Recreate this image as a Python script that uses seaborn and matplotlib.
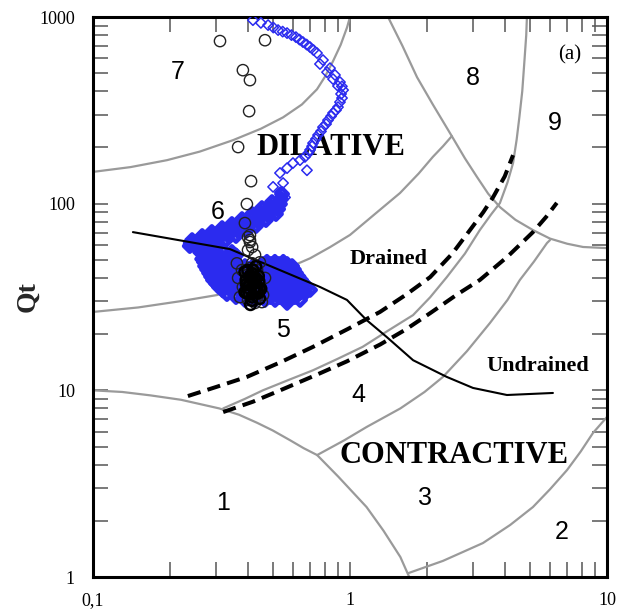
import matplotlib
matplotlib.use("Agg")
import matplotlib.pyplot as plt
import seaborn as sns

# --- zone boundaries of the Qt - Fr chart (Fr in %, Qt) ---
zone1_fr = [0.1, 0.13, 0.167, 0.22, 0.31, 0.37, 0.435, 0.5, 0.585, 0.66, 0.745, 0.9, 1.16,
            1.35, 1.57, 1.70]
zone1_qt = [10.0, 9.8, 9.4, 8.9, 8.0, 7.4, 6.7, 6.1, 5.4, 4.9, 4.5, 3.45, 2.37, 1.77, 1.28, 1.0]

zone2_fr = [1.69, 2.3, 3.29, 4.2, 5.15, 6.0, 6.99, 7.9, 8.82, 10.0]
zone2_qt = [1.05, 1.22, 1.52, 1.9, 2.37, 2.95, 3.74, 4.7, 5.91, 7.2]

zone34_fr = [0.745, 0.95, 1.16, 1.57, 1.95, 2.3, 2.85, 3.50, 4.1, 4.58, 5.2, 5.84, 6.0]
zone34_qt = [4.5, 5.4, 6.36, 8.0, 9.8, 11.8, 16.2, 22.9, 30.5, 39.0, 49.0, 61.5, 63.8]

zone45_fr = [0.321, 0.39, 0.458, 0.58, 0.717, 0.9, 1.12, 1.4, 1.76, 2.05, 2.38, 2.8, 3.2, 3.55,
             3.83, 4.1, 4.31, 4.45, 4.56, 4.68, 4.78, 4.85, 4.88]
zone45_qt = [8.0, 9.0, 10.0, 11.4, 12.8, 14.8, 17.1, 20.8, 25.3, 31.5, 40.4, 54, 72.2, 88,
             100.7, 130, 165, 220, 290, 400, 600, 800, 1000]

zone56_fr = [0.1, 0.15, 0.218, 0.304, 0.42, 0.585, 0.7, 0.836, 1.0, 1.25, 1.565, 1.85, 2.10,
             2.3, 2.49]
zone56_qt = [26.3, 27.8, 30.0, 32.4, 37.5, 45.8, 51.0, 58.5, 68.0, 88, 114, 145, 178, 203, 230]

zone67_fr = [0.1, 0.14, 0.194, 0.26, 0.351, 0.45, 0.549, 0.65, 0.744, 0.80, 0.859, 0.92,
             0.974, 1.0]
zone67_qt = [148, 157, 171, 190, 219, 252, 290, 340, 410, 480, 580, 710, 880, 1000]

zone8_fr = [1.406, 1.6, 1.823, 2.1, 2.49, 2.8, 3.12, 3.45, 3.83, 4.4, 5.15, 6.0, 7.0, 8.07, 10.0]
zone8_qt = [1000, 700, 476, 340, 230, 175, 139, 113, 95.9, 82, 72.2, 65, 61, 58.6, 57.8]

# drained / undrained limits
drained_upper_fr = [0.234, 0.3, 0.397, 0.54, 0.718, 0.98, 1.308, 1.65, 2.05, 2.5, 2.93, 3.3,
                    3.6, 4.0, 4.31]
drained_upper_qt = [9.32, 10.4, 11.8, 14.2, 17.1, 21.3, 26.3, 32.5, 40.4, 54, 72.2, 90, 108,
                    140, 182]
drained_lower_fr = [0.321, 0.42, 0.535, 0.75, 0.973, 1.31, 1.65, 2.05, 2.6, 3.2, 4.1, 5.15,
                    5.8, 6.38]
drained_lower_qt = [7.65, 8.7, 10.0, 12.2, 14.3, 17.6, 21.2, 25.9, 32.5, 39.0, 52, 70.4, 85,
                    101]

undrained_fr = [0.143, 0.341, 0.764, 0.973, 1.16, 1.39, 1.76, 2.38, 3.01, 4.08, 6.16]
undrained_qt = [70.4, 57.1, 35.8, 30.5, 23.8, 19.3, 14.5, 11.8, 10.3, 9.44, 9.68]

# --- test data ---
# blue diamonds: upper track
track_fr = [0.419, 0.450, 0.480, 0.503, 0.525, 0.547, 0.569, 0.592, 0.616, 0.636, 0.656,
            0.678, 0.699, 0.721, 0.744, 0.764, 0.785, 0.814, 0.836, 0.859, 0.874, 0.898,
            0.914, 0.930, 0.940, 0.923, 0.931, 0.914, 0.898, 0.882, 0.859, 0.844, 0.821,
            0.807, 0.785, 0.771, 0.751, 0.737, 0.718, 0.712, 0.699, 0.687, 0.668, 0.639,
            0.600, 0.569, 0.534, 0.680, 0.549, 0.502, 0.534, 0.559, 0.520, 0.497, 0.520]
track_qt = [962, 930, 905, 878, 851, 835, 820, 800, 780, 757, 734,
            712, 690, 665, 641, 560, 588, 506, 532, 465, 489, 427,
            448, 425, 406, 387, 368, 350, 329, 317, 306, 294, 280,
            267, 257, 244, 233, 222, 211, 203, 194, 186, 178, 171,
            165, 155, 146, 151, 129, 123, 115, 108, 102, 92.5, 89.1]

# blue diamonds: dense cluster, one row of Fr values per Qt level
band_fr = [0.544, 0.497, 0.454, 0.416, 0.380, 0.347, 0.318, 0.290, 0.266, 0.243,
           0.539, 0.492, 0.450, 0.412, 0.377, 0.344, 0.315, 0.288, 0.263, 0.240,
           0.534, 0.488, 0.446, 0.408, 0.373, 0.341, 0.312, 0.285, 0.261, 0.238,
           0.525, 0.480, 0.438, 0.401, 0.367, 0.335, 0.306, 0.280, 0.256,
           0.515, 0.471, 0.431, 0.394, 0.360, 0.329, 0.301, 0.275]
band_qt = [112.6, 102.0, 94.7, 88.0, 82.7, 77.8, 74.0, 70.5, 67.1, 63.8,
           106, 96.5, 89.6, 83.8, 78.7, 74.5, 70.9, 67.5, 64.2, 61.5,
           99.5, 91.3, 84.8, 79.7, 74.9, 71.3, 67.9, 64.6, 61.5, 59.3,
           93.5, 86.5, 80.2, 75.5, 71.0, 67.5, 64.3, 61.5, 58.5,
           88.0, 81.7, 75.9, 71.3, 67.1, 63.8, 60.8, 57.8]

cluster_levels = [55.1, 52.8, 50.5, 48.8, 47.5, 46.3, 44.4, 42.5, 40.7, 39.0, 37.4, 35.8,
                  34.3, 32.8, 31.6, 30.5]
cluster_rows = [
    [0.261, 0.280, 0.301, 0.323, 0.347],
    [0.270, 0.290, 0.312, 0.335, 0.360],
    [0.266, 0.285, 0.306, 0.329, 0.354],
    [0.270, 0.290, 0.310, 0.333, 0.357, 0.475, 0.510, 0.550],
    [0.459, 0.493, 0.529, 0.569],
    [0.273, 0.293, 0.315, 0.338, 0.363, 0.390, 0.419, 0.450, 0.484, 0.520, 0.559, 0.595],
    [0.278, 0.298, 0.320, 0.344, 0.370, 0.397, 0.427, 0.459, 0.493, 0.529, 0.569, 0.605],
    [0.283, 0.304, 0.326, 0.350, 0.377, 0.405, 0.435, 0.467, 0.502, 0.539, 0.579, 0.616],
    [0.288, 0.309, 0.332, 0.357, 0.383, 0.412, 0.442, 0.475, 0.511, 0.549, 0.589, 0.630],
    [0.293, 0.315, 0.338, 0.363, 0.390, 0.419, 0.450, 0.484, 0.520, 0.559, 0.600, 0.645],
    [0.301, 0.323, 0.347, 0.373, 0.401, 0.431, 0.463, 0.497, 0.534, 0.574, 0.616, 0.660],
    [0.309, 0.332, 0.357, 0.383, 0.412, 0.442, 0.475, 0.511, 0.549, 0.589, 0.633, 0.680],
    [0.320, 0.344, 0.370, 0.397, 0.427, 0.459, 0.493, 0.529, 0.569, 0.610, 0.655],
    [0.332, 0.357, 0.383, 0.412, 0.442, 0.475, 0.511, 0.549, 0.589, 0.633],
    [0.360, 0.390, 0.420, 0.450, 0.490, 0.530, 0.570, 0.610],
    [0.390, 0.427, 0.467, 0.511, 0.569],
]
stray_fr = [0.699, 0.639, 0.569, 0.668]
stray_qt = [34.5, 30.5, 29.4, 33.2]

# black open circles
circles_fr = [0.312, 0.467, 0.383, 0.408, 0.405, 0.367, 0.412, 0.397, 0.390, 0.408,
              0.408, 0.401, 0.408, 0.416, 0.401, 0.427, 0.363, 0.416, 0.446, 0.380,
              0.435, 0.367, 0.467, 0.397, 0.383, 0.446, 0.373, 0.427, 0.408, 0.459,
              0.427, 0.419, 0.439, 0.408, 0.427, 0.397, 0.416, 0.435, 0.401, 0.454]
circles_qt = [743, 751, 519, 459, 313, 201, 132, 99.5, 78.7, 67.9,
              63.8, 66.2, 62.3, 58.6, 56.4, 53.1, 47.9, 47.9, 48.5, 44.1,
              44.1, 40.0, 40.0, 41.5, 35.8, 36.7, 31.6, 29.4, 32.4, 32.4,
              34.5, 38.0, 40.5, 45.2, 42.5, 38.0, 36.7, 31.6, 30.5, 29.7]
# the tight black core of the circles
core_fr = [0.390, 0.446, 0.390, 0.408, 0.427, 0.405, 0.423, 0.439, 0.397, 0.416,
           0.435, 0.394, 0.442, 0.419, 0.400, 0.430, 0.410, 0.440, 0.395, 0.425,
           0.450, 0.405, 0.435, 0.415, 0.445, 0.420, 0.400, 0.430, 0.410]
core_qt = [33.6, 34.5, 43.0, 41.0, 39.0, 36.7, 34.9, 33.2, 33.2, 31.6,
           35.8, 39.0, 38.5, 44.1, 44.0, 46.0, 40.0, 41.0, 37.0, 37.5,
           35.0, 33.0, 33.8, 30.3, 31.0, 42.0, 35.5, 39.8, 28.8]

BLUE = "#2b2bef"
GRAY = "#9a9a9a"


def build_cluster():
    fr, qt = list(band_fr), list(band_qt)
    for level, row in zip(cluster_levels, cluster_rows):
        fr += row
        qt += [level] * len(row)
    return fr + stray_fr, qt + stray_qt


def plot_chart():
    sns.set_style("ticks")
    plt.rcParams["font.family"] = ["Liberation Serif", "DejaVu Serif"]
    plt.rcParams["text.color"] = "black"

    fig = plt.figure(figsize=(6.32, 6.12), dpi=100)
    ax = fig.add_axes([93 / 632, 1 - 577 / 612, 514 / 632, 560 / 612])
    ax.set(xscale="log", yscale="log")

    # zone boundaries
    for fr, qt in [(zone1_fr, zone1_qt), (zone2_fr, zone2_qt), (zone34_fr, zone34_qt),
                   (zone45_fr, zone45_qt), (zone56_fr, zone56_qt), (zone67_fr, zone67_qt),
                   (zone8_fr, zone8_qt)]:
        sns.lineplot(x=fr, y=qt, sort=False, estimator=None, color=GRAY, lw=1.6,
                     ax=ax, zorder=1)

    # big region labels sit under the data
    ax.text(0.844, 201, "DILATIVE", fontsize=22, fontweight="bold", ha="center",
            va="center", zorder=2)
    ax.text(2.54, 4.5, "CONTRACTIVE", fontsize=22, fontweight="bold", ha="center",
            va="center", zorder=2)
    ax.text(1.41, 50.5, "Drained", fontsize=16, fontweight="bold", ha="center",
            va="center", zorder=2)
    ax.text(5.39, 13.5, "Undrained", fontsize=16, fontweight="bold", ha="center",
            va="center", zorder=2)
    ax.text(7.18, 625, "(a)", fontsize=15, ha="center", va="center", zorder=2)

    zones = {"1": (0.321, 2.49), "2": (6.68, 1.74), "3": (1.958, 2.65), "4": (1.074, 9.44),
             "5": (0.549, 21.0), "6": (0.306, 90.2), "7": (0.214, 507), "8": (3.01, 471),
             "9": (6.28, 270)}
    for name, (fx, qy) in zones.items():
        ax.text(fx, qy, name, fontsize=18, family="Liberation Sans", ha="center",
                va="center", zorder=2)

    # drained / undrained boundaries
    for fr, qt in [(drained_upper_fr, drained_upper_qt), (drained_lower_fr, drained_lower_qt)]:
        sns.lineplot(x=fr, y=qt, sort=False, estimator=None, color="black", lw=2.9,
                     linestyle=(0, (3.3, 1.8)), ax=ax, zorder=3)

    # data
    sns.scatterplot(x=track_fr, y=track_qt, marker="D", s=28, facecolor="none",
                    edgecolor=BLUE, linewidth=1.1, ax=ax, zorder=4)
    cl_fr, cl_qt = build_cluster()
    sns.scatterplot(x=cl_fr, y=cl_qt, marker="D", s=34, facecolor="none",
                    edgecolor=BLUE, linewidth=3.2, ax=ax, zorder=4)

    sns.lineplot(x=undrained_fr, y=undrained_qt, sort=False, estimator=None,
                 color="black", lw=1.5, ax=ax, zorder=5)

    sns.scatterplot(x=circles_fr, y=circles_qt, marker="o", s=66, facecolor="none",
                    edgecolor="#222222", linewidth=1.0, ax=ax, zorder=6)
    sns.scatterplot(x=core_fr, y=core_qt, marker="o", s=60, facecolor="none",
                    edgecolor="black", linewidth=1.8, ax=ax, zorder=6)

    # axes
    ax.set_xlim(0.1, 10)
    ax.set_ylim(1, 1000)
    ax.set_xticks([0.1, 1, 10], ["0,1", "1", "10"])
    ax.set_yticks([1, 10, 100, 1000], ["1", "10", "100", "1000"])
    ax.xaxis.set_minor_formatter(plt.NullFormatter())
    ax.yaxis.set_minor_formatter(plt.NullFormatter())
    ax.tick_params(which="both", direction="in", length=11, width=1.1, color="#555555",
                   top=True, right=True, labelsize=13, labelcolor="black")
    ax.tick_params(axis="x", which="both", pad=11)
    ax.tick_params(axis="y", which="both", pad=13)
    for side in ax.spines.values():
        side.set_linewidth(2.2)
        side.set_color("black")
    ax.set_xlabel("")
    ax.set_ylabel("Qt", fontsize=20, fontweight="bold", labelpad=-1)

    fig.savefig("out.png", dpi=100)


if __name__ == "__main__":
    plot_chart()
